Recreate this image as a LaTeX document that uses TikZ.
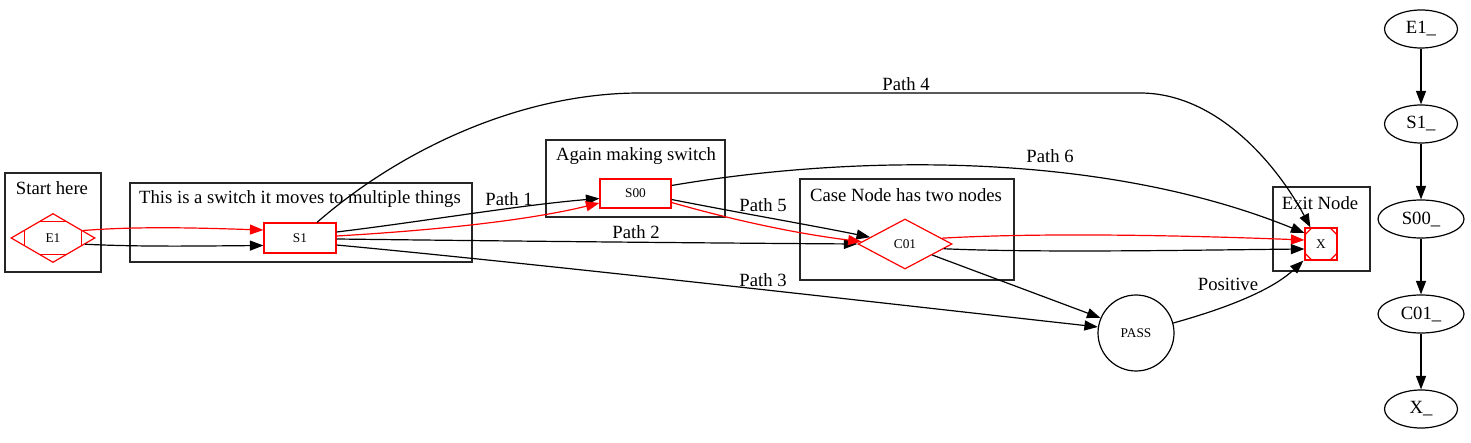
\documentclass[tikz,border=0pt]{standalone}
\usepackage{fontspec}
\setmainfont{Liberation Serif}
\usetikzlibrary{shapes.geometric,arrows.meta,calc}
\begin{document}
\begin{tikzpicture}[x=1pt,y=-1pt,
  big/.style={font=\fontsize{18.67}{22}\selectfont, inner sep=0pt},
  small/.style={font=\fontsize{13.33}{16}\selectfont},
  clus/.style={draw=black!85, line width=1.2pt},
  rednode/.style={draw=red, line width=1.2pt, inner sep=0pt, small},
  ell/.style={draw, ellipse, line width=1.2pt, inner sep=0pt, minimum width=73pt, minimum height=38pt, font=\fontsize{18.67}{22}\selectfont},
  arr/.style={-{Triangle[length=13.5pt,width=10pt]}, line width=1.2pt},
  lbl/.style={font=\fontsize{18.67}{22}\selectfont, inner sep=0pt}
]
\useasboundingbox (0,0) rectangle (1471,443);

% clusters
\draw[clus] (5,173) rectangle (101,272);
\node[big] (cl1) at (52,188) {Start here};
\draw[clus] (130,183) rectangle (472,262);
\node[big] (cl2) at (300,199) {This is a switch it moves to multiple things};
\draw[clus] (546,140) rectangle (725,217);
\node[big] (cl3) at (636,156) {Again making switch};
\draw[clus] (800,179) rectangle (1014,280);
\node[big] (cl4) at (906,195) {Case Node has two nodes};
\draw[clus] (1273,187) rectangle (1370,271);
\node[big] (cl5) at (1320,203) {Exit Node};

% nodes
\node[rednode, diamond, minimum width=84pt, minimum height=49pt] (e1) at (53,238) {E1};
\draw[red, line width=1.2pt] ($(e1.north)!1/3!(e1.west)$) -- ($(e1.north)!1/3!(e1.east)$)
  ($(e1.south)!1/3!(e1.west)$) -- ($(e1.south)!1/3!(e1.east)$)
  ($(e1.west)!1/3!(e1.north)$) -- ($(e1.west)!1/3!(e1.south)$)
  ($(e1.east)!1/3!(e1.north)$) -- ($(e1.east)!1/3!(e1.south)$);
\node[rednode, rectangle, minimum width=72pt, minimum height=30pt] (s1) at (300,238) {S1};
\node[rednode, rectangle, minimum width=71pt, minimum height=29pt] (s00) at (635.5,193.5) {S00};
\node[rednode, diamond, minimum width=94pt, minimum height=50pt] (c01) at (905,244) {C01};
\node[rednode, rectangle, minimum width=32pt, minimum height=32pt] (x) at (1321,244) {X};
\draw[red, line width=1.2pt]
  ($(x.north west)+(0,8)$) -- ($(x.north west)+(8,0)$)
  ($(x.north east)+(0,8)$) -- ($(x.north east)+(-8,0)$)
  ($(x.south west)+(0,-8)$) -- ($(x.south west)+(8,0)$)
  ($(x.south east)+(0,-8)$) -- ($(x.south east)+(-8,0)$);
\node[draw, circle, line width=1.2pt, minimum size=76pt, inner sep=0pt, small] (pass) at (1136,333) {PASS};

% right column
\node[ell] (re1) at (1421,29) {E1\_};
\node[ell] (rs1) at (1421,124) {S1\_};
\node[ell, minimum width=86pt] (rs00) at (1421,219) {S00\_};
\node[ell, minimum width=86pt] (rc01) at (1421,314) {C01\_};
\node[ell] (rx) at (1421,409) {X\_};
\draw[arr] (re1) -- (rs1);
\draw[arr] (rs1) -- (rs00);
\draw[arr] (rs00) -- (rc01);
\draw[arr] (rc01) -- (rx);

% edges
\draw[arr, red] (e1.14) .. controls (140,226) and (200,228) .. ($(s1.west)+(0,-8)$);
\draw[arr] (e1.-11) .. controls (140,247) and (200,246) .. ($(s1.west)+(0,7.5)$);

\draw[arr] ($(s1.east)+(0,-6)$) .. controls (420,222) and (520,205) .. ($(s00.west)+(0,5)$);
\draw[arr, red] ($(s1.east)+(0,-2)$) .. controls (440,230) and (530,220) .. ($(s00.west)+(0,9.5)$);
\node[lbl] (p1) at (509,199) {Path 1};

\draw[arr] ($(s1.east)+(0,1)$) .. controls (500,241) and (700,243) .. (c01.west);
\node[lbl] (p2) at (636,232) {Path 2};

\draw[arr] ($(s1.east)+(0,7)$) .. controls (550,265) and (900,305) .. (pass.171);
\node[lbl] (p3) at (763,280) {Path 3};

\draw[arr] ($(s1.north)+(17,0)$) .. controls (400,150) and (520,93) .. (640,93) -- (1140,93)
  .. controls (1220,93) and (1280,170) .. ($(x.north west)+(6,0)$);
\node[lbl] (p4) at (906,84) {Path 4};

\draw[arr] ($(s00.east)+(0,6)$) .. controls (740,213) and (810,225) .. (c01.169);
\draw[arr, red] ($(s00.east)+(0,9)$) .. controls (740,222) and (800,234) .. (c01.177);
\node[lbl] (p5) at (763,205) {Path 5};

\draw[arr] ($(s00.east)+(0,-8)$) .. controls (850,155) and (1100,150) .. ($(x.west)+(0,-11)$);
\node[lbl] (p6) at (1050,156) {Path 6};

\draw[arr, red] (c01.9) .. controls (1050,232) and (1200,236) .. ($(x.west)+(0,-4)$);
\draw[arr] (c01.-7) .. controls (1040,253) and (1200,250) .. ($(x.west)+(0,5)$);
\draw[arr] (c01.-22) -- (pass.157);

\draw[arr] (pass.15) .. controls (1220,310) and (1270,292) .. ($(x.south west)+(-1,0)$);
\node[lbl] (pos) at (1228,284) {Positive};
\end{tikzpicture}
\end{document}
